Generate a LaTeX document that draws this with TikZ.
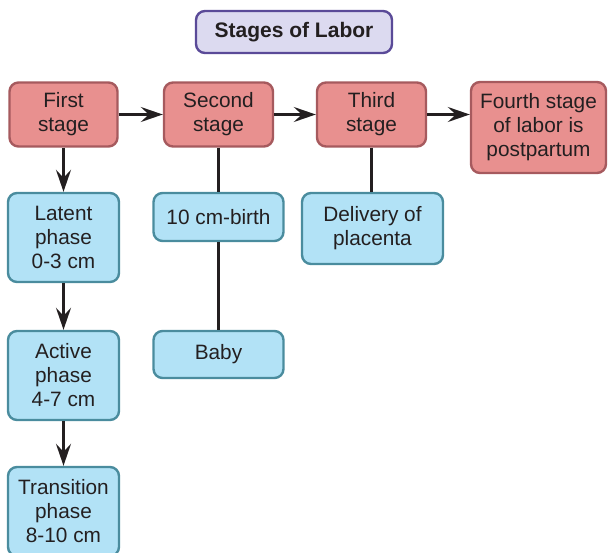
\documentclass[tikz,border=0pt]{standalone}
\usepackage{fontspec}
\setmainfont{Liberation Sans}
\usetikzlibrary{arrows.meta}
\definecolor{redfill}{HTML}{E8908F}
\definecolor{redline}{HTML}{A65A5E}
\definecolor{bluefill}{HTML}{B2E2F6}
\definecolor{blueline}{HTML}{4A8C9E}
\definecolor{titlefill}{HTML}{DCDAF0}
\definecolor{titleline}{HTML}{5A4A98}
\definecolor{inkc}{HTML}{231F20}
\begin{document}
\begin{tikzpicture}[x=1pt,y=-1pt,
 box/.style={rounded corners=9pt, line width=2.4pt, inner sep=0pt, align=center,
   font=\fontsize{20.8}{24}\selectfont, text=inkc},
 redbox/.style={box, fill=redfill, draw=redline},
 bluebox/.style={box, fill=bluefill, draw=blueline},
 titlebox/.style={box, fill=titlefill, draw=titleline, font=\fontsize{21}{24}\selectfont\bfseries},
 conn/.style={line width=2.6pt, draw=inkc},
 arr/.style={conn, -{Stealth[length=22pt,width=15pt,inset=8pt]}}]
\useasboundingbox (0,0) rectangle (608,552);
\clip (0,0) rectangle (608,552);

\node[titlebox, minimum width=196pt, minimum height=42pt] (title) at (294,32) {Stages of Labor};

\node[redbox, minimum width=108pt, minimum height=64pt] (first) at (63.5,114.5) {First\\stage};
\node[redbox, minimum width=109pt, minimum height=64pt] (second) at (218.5,114.5) {Second\\stage};
\node[redbox, minimum width=109pt, minimum height=64pt] (third) at (371.5,114.5) {Third\\stage};
\node[redbox, minimum width=135pt, minimum height=91pt] (fourth) at (538.5,127.5) {Fourth stage\\of labor is\\postpartum};

\node[bluebox, minimum width=111pt, minimum height=89pt] (latent) at (63.5,237.5) {Latent\\phase\\0-3 cm};
\node[bluebox, minimum width=111pt, minimum height=89pt] (active) at (63.5,375.5) {Active\\phase\\4-7 cm};
\node[bluebox, minimum width=111pt, minimum height=89pt] (trans) at (63.5,511.5) {Transition\\phase\\8-10 cm};

\node[bluebox, minimum width=130pt, minimum height=48pt] (birth) at (218.5,217) {10 cm-birth};
\node[bluebox, minimum width=130pt, minimum height=47pt] (baby) at (218.5,354.5) {Baby};
\node[bluebox, minimum width=141pt, minimum height=71pt] (placenta) at (372.5,228.5) {Delivery of\\placenta};

\draw[arr] (first) -- (second);
\draw[arr] (second) -- (third);
\draw[arr] (third.east) -- (fourth.west |- third.east);
\draw[arr] (first) -- (latent);
\draw[arr] (latent) -- (active);
\draw[arr] (active) -- (trans);
\draw[conn] (second) -- (birth);
\draw[conn] (birth) -- (baby);
\draw[conn] (third.south) -- (third.south |- placenta.north);
\end{tikzpicture}
\end{document}
